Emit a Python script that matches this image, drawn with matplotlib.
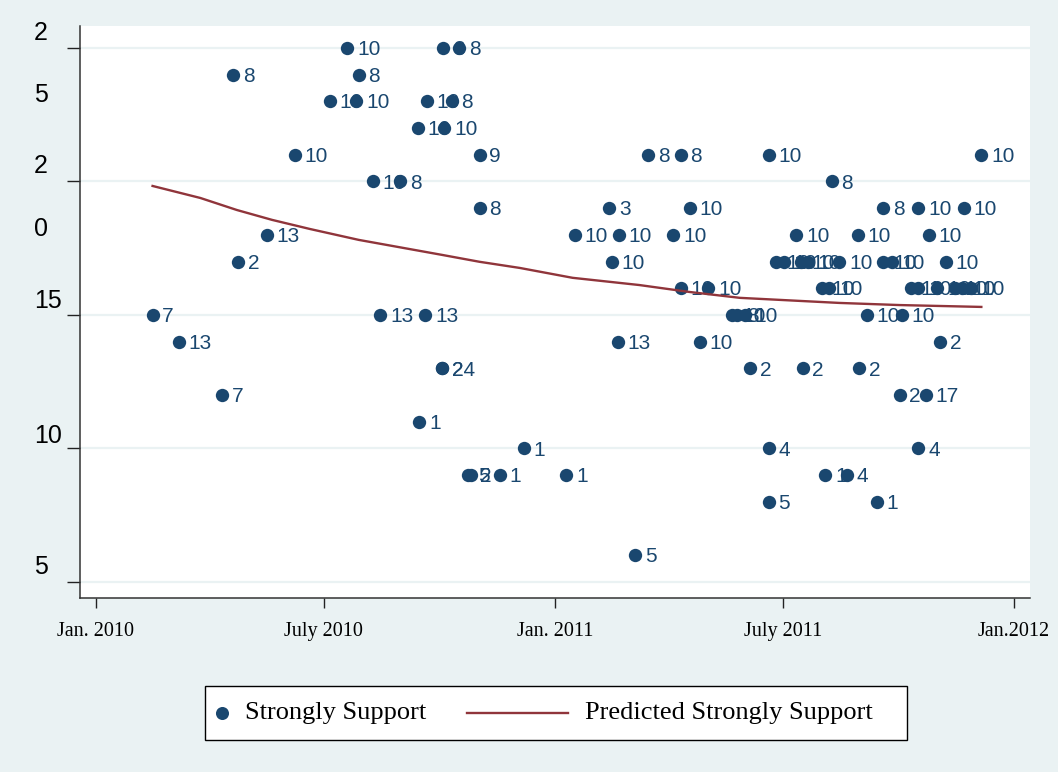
import matplotlib
matplotlib.use("Agg")
import matplotlib.pyplot as plt
import matplotlib.dates as mdates
from matplotlib.lines import Line2D
from matplotlib.patches import Rectangle

# observed counts of "strongly support" by survey date, with the label of each poll
dates = [
    "2010-07-20", "2010-10-04", "2010-10-17",
    "2010-04-20", "2010-07-29",
    "2010-07-06", "2010-07-27", "2010-09-21", "2010-10-11",
    "2010-09-14", "2010-10-05",
    "2010-06-08", "2010-11-02", "2011-03-16", "2011-04-11", "2011-06-20", "2011-12-06",
    "2010-08-09", "2010-08-31", "2011-08-09",
    "2010-11-02", "2011-02-13", "2011-04-18", "2011-09-19", "2011-10-17", "2011-11-22",
    "2010-05-17", "2011-01-17", "2011-02-21", "2011-04-05", "2011-07-12", "2011-08-30", "2011-10-25",
    "2010-04-24", "2011-02-15", "2011-06-26", "2011-07-02", "2011-07-16", "2011-07-21",
    "2011-08-15", "2011-09-19", "2011-09-26", "2011-11-08",
    "2011-04-11", "2011-05-03", "2011-08-01", "2011-08-07", "2011-10-11", "2011-10-17",
    "2011-11-01", "2011-11-15", "2011-11-21", "2011-11-28",
    "2010-02-15", "2010-08-15", "2010-09-20", "2011-05-22", "2011-05-26", "2011-06-01",
    "2011-09-06", "2011-10-04",
    "2010-03-08", "2011-02-20", "2011-04-26", "2011-11-03",
    "2010-10-03", "2010-10-03", "2011-06-05", "2011-07-17", "2011-08-31",
    "2010-04-11", "2011-10-02", "2011-10-23",
    "2010-09-15",
    "2010-12-07", "2011-06-20", "2011-10-17",
    "2010-10-24", "2010-10-26", "2010-11-18", "2011-01-10", "2011-08-04", "2011-08-21",
    "2011-06-20", "2011-09-14",
    "2011-03-06",
]
support = [
    25, 25, 25,
    24, 24,
    23, 23, 23, 23,
    22, 22,
    21, 21, 21, 21, 21, 21,
    20, 20, 20,
    19, 19, 19, 19, 19, 19,
    18, 18, 18, 18, 18, 18, 18,
    17, 17, 17, 17, 17, 17, 17, 17, 17, 17,
    16, 16, 16, 16, 16, 16, 16, 16, 16, 16,
    15, 15, 15, 15, 15, 15, 15, 15,
    14, 14, 14, 14,
    13, 13, 13, 13, 13,
    12, 12, 12,
    11,
    10, 10, 10,
    9, 9, 9, 9, 9, 9,
    8, 8,
    6,
]
poll_labels = [
    "10", "8", "8",
    "8", "8",
    "10", "10", "10", "8",
    "10", "10",
    "10", "9", "8", "8", "10", "10",
    "10", "8", "8",
    "8", "3", "10", "8", "10", "10",
    "13", "10", "10", "10", "10", "10", "10",
    "2", "10", "10", "10", "10", "10", "10", "10", "10", "10",
    "10", "10", "10", "10", "10", "10", "10", "10", "10", "10",
    "7", "13", "13", "10", "8", "10", "10", "10",
    "13", "13", "10", "2",
    "2", "24", "2", "2", "2",
    "7", "2", "17",
    "1",
    "1", "4", "4",
    "5", "2", "1", "1", "1", "4",
    "5", "1",
    "5",
]

# fitted trend
pred_dates = ["2010-02-15", "2010-03-25", "2010-04-23", "2010-05-21", "2010-06-20",
              "2010-07-29", "2010-10-03", "2010-11-02", "2010-12-04", "2011-01-15",
              "2011-03-09", "2011-04-18", "2011-05-28", "2011-08-15", "2011-10-02",
              "2011-12-06"]
pred_support = [19.83, 19.38, 18.93, 18.56, 18.22,
                17.81, 17.25, 16.99, 16.76, 16.39,
                16.12, 15.86, 15.64, 15.45, 15.37,
                15.30]

x_ticks = ["2010-01-01", "2010-07-01", "2011-01-01", "2011-07-01", "2012-01-01"]
x_tick_labels = ["Jan. 2010", "July 2010", "Jan. 2011", "July 2011", "Jan.2012"]
y_ticks = [5, 10, 15, 20, 25]

navy = "#1a476f"
cranberry = "#90353b"
bg = "#eaf2f3"
W, H = 1058, 772

fig = plt.figure(figsize=(W / 100, H / 100), dpi=100, facecolor=bg)
ax = fig.add_axes([80 / W, 1 - 598 / H, 950 / W, 572 / H])
ax.set_facecolor("white")

xd = mdates.datestr2num(dates)
ax.plot(xd, support, "o", color=navy, ms=9.6, mew=0, zorder=4)
for xv, yv, lab in zip(xd, support, poll_labels):
    ax.annotate(lab, (xv, yv), xytext=(7.0, -1.2), textcoords="offset points",
                va="center", ha="left", fontsize=15, color=navy,
                family="Liberation Sans", zorder=3)

ax.plot(mdates.datestr2num(pred_dates), pred_support, color=cranberry, lw=1.7, zorder=5)

x0 = mdates.datestr2num("2010-01-01")
ax.set_xlim(x0 - 12.7, x0 + 742.7)
ax.set_ylim(4.40, 25.82)

ax.set_xticks(mdates.datestr2num(x_ticks))
ax.set_xticklabels(x_tick_labels, family="Liberation Serif", fontsize=14.5)
ax.set_yticks(y_ticks)
ax.set_yticklabels([])
ax.tick_params(axis="x", length=7.5, width=1, color="#222222", pad=10)
ax.tick_params(axis="y", length=9.5, width=1, color="#222222")
ax.grid(axis="y", color=bg, lw=1.6)
ax.set_axisbelow(True)
for side in ("top", "right"):
    ax.spines[side].set_visible(False)
for side in ("left", "bottom"):
    ax.spines[side].set_color("#333333")
    ax.spines[side].set_linewidth(1.1)

# y axis labels
for s, py in [("2", 33), ("5", 95), ("2", 166), ("0", 229),
              ("15", 301), ("10", 436), ("5", 567)]:
    fig.text(34 / W, 1 - py / H, s, ha="left", va="center", fontsize=18,
             family="Liberation Sans", color="black")

# legend box
fig.add_artist(Rectangle((205 / W, 1 - 740 / H), 702 / W, 54 / H,
                         transform=fig.transFigure, facecolor="white",
                         edgecolor="black", lw=1))
ly = 1 - 713 / H
fig.add_artist(Line2D([222 / W], [ly], marker="o", ms=9.4, mew=0, color=navy,
                      transform=fig.transFigure))
fig.text(245 / W, ly, "Strongly Support", ha="left", va="center", fontsize=19,
         family="Liberation Serif")
fig.add_artist(Line2D([467 / W, 568 / W], [ly, ly], color=cranberry, lw=1.7,
                      transform=fig.transFigure))
fig.text(585 / W, ly, "Predicted Strongly Support", ha="left", va="center",
         fontsize=19, family="Liberation Serif")

fig.savefig("out.png", dpi=100, facecolor=bg)
